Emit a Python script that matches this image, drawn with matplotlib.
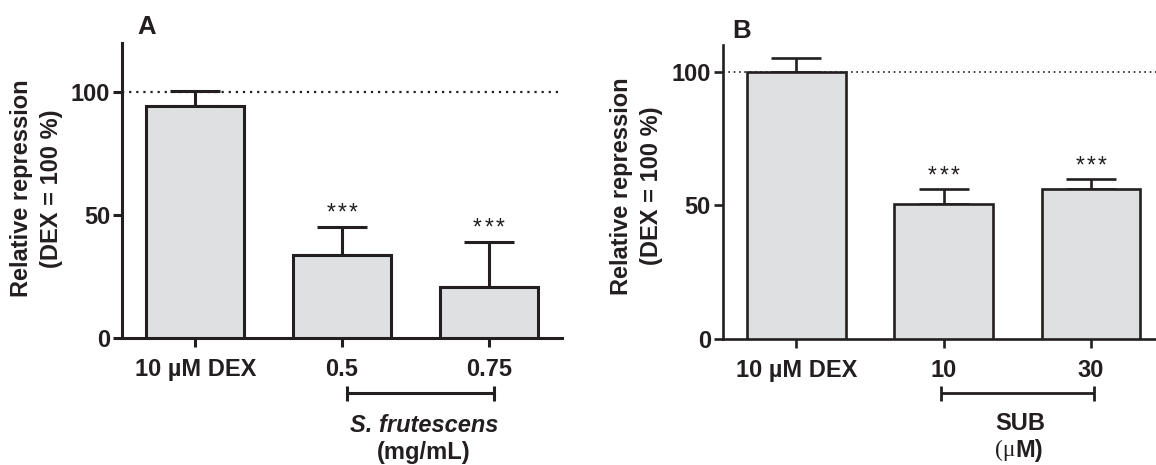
import matplotlib
matplotlib.use("Agg")
import matplotlib.pyplot as plt
from matplotlib.transforms import blended_transform_factory

# ---- data -------------------------------------------------------------
cats_a = ["10 µM DEX", "0.5", "0.75"]
means_a = [94.3, 33.9, 20.8]
errs_a = [6.0, 11.5, 18.5]
stars_a = [0, 3, 3]          # number of significance asterisks

cats_b = ["10 µM DEX", "10", "30"]
means_b = [100.0, 50.6, 56.3]
errs_b = [5.3, 5.4, 3.5]
stars_b = [0, 3, 3]

yticks_a = [0, 50, 100]
yticks_b = [0, 50, 100]
ylim_a = 120
ylim_b = 110
reference_level = 100

# ---- style ------------------------------------------------------------
W, H = 1156, 465
DARK = "#231f20"
FILL = "#dfe0e2"
FONT = "Liberation Sans"
FS = 17

plt.rcParams["font.family"] = [FONT, "DejaVu Sans"]
plt.rcParams["font.weight"] = "bold"

fig = plt.figure(figsize=(W / 100, H / 100), dpi=100)


def fx(px):
    return px / W


def fy(py):
    return 1 - py / H


def panel(rect, cats, means, errs, stars, yticks, ytop, lw, dot_lw):
    ax = fig.add_axes(rect)
    x = list(range(len(cats)))
    ax.bar(x, means, width=0.67, color=FILL, edgecolor=DARK, linewidth=lw, zorder=3)
    ax.errorbar(x, means, yerr=[[0] * len(errs), errs], fmt="none",
                ecolor=DARK, elinewidth=lw, capsize=18, capthick=lw, zorder=2)
    ax.axhline(reference_level, color=DARK, linestyle=(0, (1, 2.2)),
               linewidth=dot_lw, zorder=1)
    # significance asterisks, spaced apart above each error bar
    for xi, m, e, n in zip(x, means, errs, stars):
        for k in range(n):
            dx = (k - (n - 1) / 2) * 8.2
            ax.annotate("*", (xi, m + e), xytext=(dx, 4.8),
                        textcoords="offset points", ha="center", va="baseline",
                        fontsize=16.5, fontweight="normal", color=DARK)
    ax.set_xlim(-0.5, 2.5)
    ax.set_ylim(0, ytop)
    ax.set_yticks(yticks)
    ax.set_xticks(x)
    ax.set_xticklabels(cats)
    for side in ("top", "right"):
        ax.spines[side].set_visible(False)
    for side in ("left", "bottom"):
        ax.spines[side].set_linewidth(lw)
        ax.spines[side].set_color(DARK)
    ax.tick_params(axis="both", length=6.5, width=lw, color=DARK,
                   labelsize=FS, labelcolor=DARK)
    ax.tick_params(axis="y", pad=2)
    ax.tick_params(axis="x", pad=8)
    for lab in ax.get_xticklabels() + ax.get_yticklabels():
        lab.set_fontweight("bold")
    return ax


ax_a = panel([fx(122), fy(338.3), fx(562) - fx(122), fy(43) - fy(338.3)],
             cats_a, means_a, errs_a, stars_a, yticks_a, ylim_a, 2.2, 1.6)
ax_b = panel([fx(722.7), fy(339), fx(1164.7) - fx(722.7), fy(45) - fy(339)],
             cats_b, means_b, errs_b, stars_b, yticks_b, ylim_b, 1.9, 1.2)

# panel letters
fig.text(fx(147), fy(27), "A", ha="center", va="center", fontsize=18.5,
         fontweight="bold", color=DARK)
fig.text(fx(742), fy(31), "B", ha="center", va="center", fontsize=18.5,
         fontweight="bold", color=DARK)

# y-axis titles (two lines each)
for x1, x2, yc in ((21.7, 51.7, 188.5), (621.7, 651.7, 186)):
    fig.text(fx(x1), fy(yc), "Relative repression", rotation=90, ha="center",
             va="center", fontsize=FS, fontweight="bold", color=DARK)
    fig.text(fx(x2), fy(yc), "(DEX = 100 %)", rotation=90, ha="center",
             va="center", fontsize=FS, fontweight="bold", color=DARK)


def bracket(ax, x0, x1, ypx, lw):
    tr = blended_transform_factory(ax.transData, fig.transFigure)
    ax.plot([x0, x1], [fy(ypx), fy(ypx)], color=DARK, lw=lw, transform=tr,
            clip_on=False, solid_capstyle="butt")
    for xe in (x0, x1):
        ax.plot([xe, xe], [fy(ypx - 7.5), fy(ypx + 7.5)], color=DARK, lw=lw,
                transform=tr, clip_on=False, solid_capstyle="butt")
    return tr


tr_a = bracket(ax_a, 1.035, 2.035, 393.3, 2.2)
ax_a.text(1.56, fy(425), "S. frutescens", transform=tr_a, ha="center",
          va="center", fontsize=FS, fontweight="bold", fontstyle="italic",
          color=DARK)
ax_a.text(1.56, fy(452), "(mg/mL)", transform=tr_a, ha="center",
          va="center", fontsize=FS, fontweight="bold", color=DARK)

tr_b = bracket(ax_b, 0.985, 2.02, 393.3, 2.0)
ax_b.text(1.52, fy(423), "SUB", transform=tr_b, ha="center",
          va="center", fontsize=FS, fontweight="bold", color=DARK)
split = (1015 - 796) / 147.5
ax_b.text(split, fy(450), "(μ", transform=tr_b, ha="right", va="center",
          fontsize=FS, fontweight="normal", color=DARK,
          family=["Liberation Serif", "DejaVu Serif"])
ax_b.text(split, fy(450), "M)", transform=tr_b, ha="left", va="center",
          fontsize=FS, fontweight="bold", color=DARK)

fig.savefig("out.png", dpi=100)
